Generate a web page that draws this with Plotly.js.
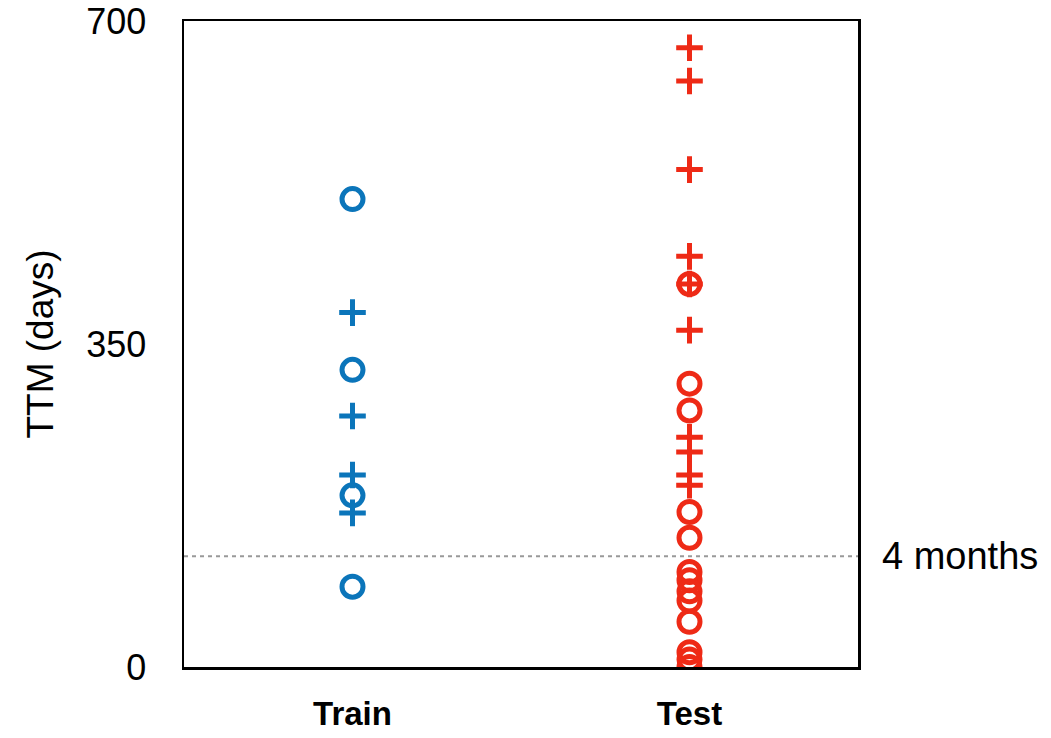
<!DOCTYPE html>
<html>
<head>
<meta charset="utf-8">
<script src="https://cdn.plot.ly/plotly-3.0.1.min.js"></script>
<style>html,body{margin:0;padding:0;background:#fff;}#chart{width:1051px;height:738px;}</style>
</head>
<body>
<div id="chart"></div>
<script>
const categories = ["Train", "Test"];
const trainCircles = [507, 322, 186, 87];
const trainPlus = [384, 272, 208, 167];
const testCircles = [415, 307, 278, 168, 140, 103, 94, 82, 72, 49, 16, 8, 0];
const testPlus = [671, 635, 539, 445, 415, 365, 249, 233, 208, 197];
const threshold = 120;
const yTicks = [0, 350, 700];

const blue = "#0b75ba";
const red = "#ee2a16";
const FONT = "Liberation Sans, Arial, sans-serif";

function xs(idx, arr) { return arr.map(() => idx); }

const circleMarker = (c) => ({symbol: "circle-open", size: 21, color: c, line: {color: c, width: 5}});
const plusMarker = (c) => ({symbol: "cross-thin-open", size: 19, color: c, line: {color: c, width: 5}});

const traces = [
  {x: xs(0, trainCircles), y: trainCircles, mode: "markers", type: "scatter", marker: circleMarker(blue), hoverinfo: "y"},
  {x: xs(0, trainPlus), y: trainPlus, mode: "markers", type: "scatter", marker: plusMarker(blue), hoverinfo: "y"},
  {x: xs(1, testCircles), y: testCircles, mode: "markers", type: "scatter", marker: circleMarker(red), hoverinfo: "y"},
  {x: xs(1, testPlus), y: testPlus, mode: "markers", type: "scatter", marker: plusMarker(red), hoverinfo: "y"}
];

const layout = {
  width: 1051, height: 738,
  margin: {l: 184, r: 193, t: 21, b: 71},
  paper_bgcolor: "#fff", plot_bgcolor: "#fff",
  showlegend: false,
  font: {family: FONT, color: "#000"},
  xaxis: {
    range: [-0.5, 1.5], tickvals: [0, 1], ticktext: categories,
    showgrid: false, zeroline: false, showline: true, mirror: true,
    linecolor: "#000", linewidth: 2.5, ticks: "",
    tickfont: {size: 33, family: FONT, weight: "bold"},
    ticklabelstandoff: 16
  },
  yaxis: {
    range: [0, 700], tickvals: yTicks, ticktext: yTicks.map(String),
    showgrid: false, zeroline: false, showline: true, mirror: true,
    linecolor: "#000", linewidth: 2.5, ticks: "",
    tickfont: {size: 36, family: FONT},
    ticklabelstandoff: 28,
    title: {text: "TTM (days)", font: {size: 37, family: FONT}, standoff: 22}
  },
  shapes: [{
    type: "line", xref: "paper", x0: 0, x1: 1, yref: "y", y0: threshold, y1: threshold,
    line: {color: "#999", width: 2, dash: "4px,4px"}, layer: "below"
  }],
  annotations: [{
    xref: "paper", x: 1, yref: "y", y: threshold, xanchor: "left", yanchor: "middle",
    xshift: 22, text: "4 months", showarrow: false,
    font: {size: 38, color: "#000", family: FONT}
  }]
};

Plotly.newPlot("chart", traces, layout, {displayModeBar: false, staticPlot: true});
</script>
</body>
</html>
